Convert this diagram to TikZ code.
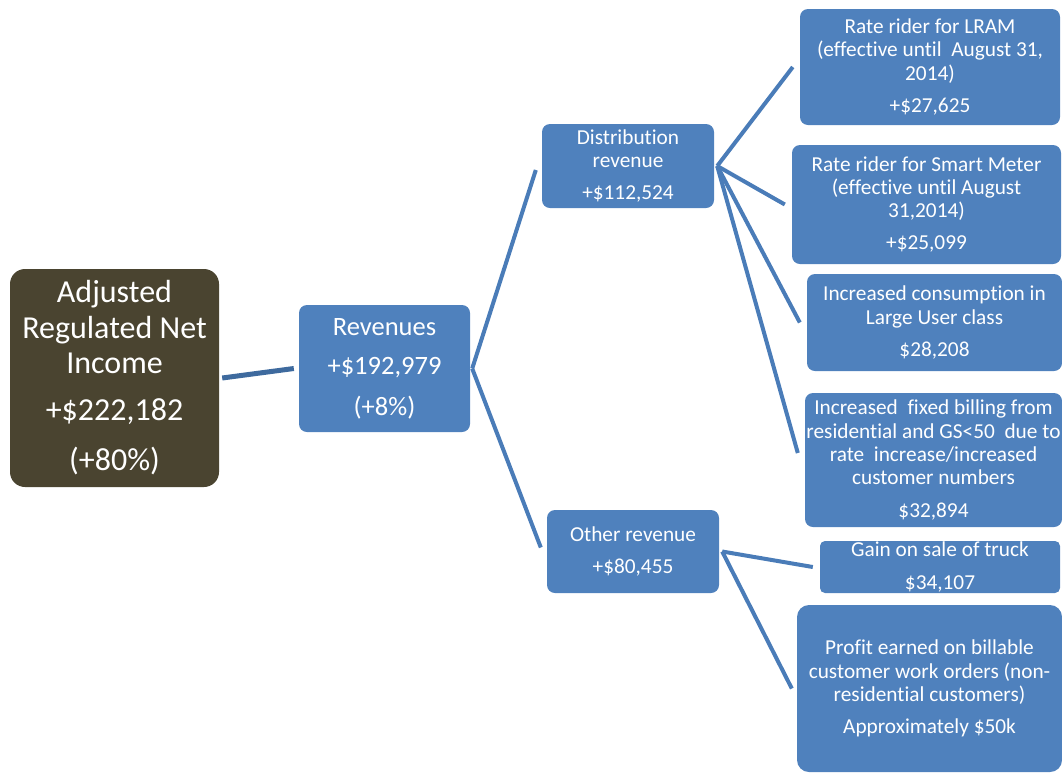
\documentclass[tikz,border=0pt]{standalone}
\usepackage{fontspec}
\setmainfont{Carlito}[Ligatures=NoCommon]
\definecolor{boxblue}{HTML}{4F81BD}
\definecolor{rootolive}{HTML}{4A4430}
\definecolor{fanblue}{HTML}{4A7CB8}
\definecolor{darkline}{HTML}{3E6A9E}
\begin{document}
\begin{tikzpicture}[x=1pt,y=-1pt,
  box/.style={fill=boxblue, text=white, rounded corners=8pt, inner xsep=0pt, inner ysep=0pt,
    align=center, font={\fontsize{21.3}{23.3}\selectfont}},
  rootbox/.style={fill=rootolive, text=white, rounded corners=15pt, inner xsep=0pt, inner ysep=0pt,
    align=center, font={\fontsize{32}{35.5}\selectfont}},
  conn/.style={draw=fanblue, line width=4pt},
  rootconn/.style={draw=darkline, line width=5pt}]
\useasboundingbox (0,0) rectangle (1062,772);

\node[rootbox, minimum width=209pt, minimum height=218pt] (root) at (114.5,378)
  {Adjusted\\Regulated Net\\Income\\[11pt]+\$222,182\\[15pt](+80\%)};
\node[box, font={\fontsize{26.5}{28}\selectfont}, minimum width=171pt, minimum height=127pt] (rev) at (384.5,368.5)
  {Revenues\\[11pt]+\$192,979\\[13pt](+8\%)};
\node[box, minimum width=172pt, minimum height=84pt] (dist) at (628,166)
  {Distribution\\revenue\\[9pt]+\$112,524};
\node[box, minimum width=172pt, minimum height=83pt] (other) at (633,551.5)
  {Other revenue\\[9pt]+\$80,455};
\node[box, minimum width=260pt, minimum height=116pt] (lram) at (930,67)
  {Rate rider for LRAM\\(effective until~ August 31,\\2014)\\[9pt]+\$27,625};
\node[box, minimum width=269pt, minimum height=119pt] (smart) at (926.5,204.5)
  {Rate rider for Smart Meter\\(effective until August\\31,2014)\\[9pt]+\$25,099};
\node[box, minimum width=255pt, minimum height=97pt] (cons) at (934.5,322.5)
  {Increased consumption in\\Large User class\\[9pt]\$28,208};
\node[box, minimum width=257pt, minimum height=134pt] (fixed) at (933.5,460)
  {Increased~ fixed billing from\\\makebox[0pt]{residential and GS<50~ due to}\\rate~ increase/increased\\customer numbers\\[9pt]\$32,894};
\node[box, rounded corners=5pt, minimum width=240pt, minimum height=52pt] (gain) at (940,567)
  {Gain on sale of truck\\[9pt]\$34,107};
\node[box, rounded corners=12pt, minimum width=265pt, minimum height=167pt] (profit) at (929.5,688.5)
  {Profit earned on billable\\customer work orders (non-\\residential customers)\\[9pt]Approximately \$50k};

\draw[rootconn] ([xshift=3pt]root.east) -- ([xshift=-5pt]rev.west);
\draw[conn] ([xshift=2pt]rev.east) -- ([xshift=-6pt,yshift=-4pt]dist.west);
\draw[conn] ([xshift=2pt]rev.east) -- ([xshift=-6pt,yshift=4pt]other.west);
\draw[conn] ([xshift=3pt]dist.east) -- ([xshift=-7pt]lram.west);
\draw[conn] ([xshift=3pt]dist.east) -- ([xshift=-7pt]smart.west);
\draw[conn] ([xshift=3pt]dist.east) -- ([xshift=-7pt]cons.west);
\draw[conn] ([xshift=3pt]dist.east) -- ([xshift=-7pt,yshift=7pt]fixed.west);
\draw[conn] ([xshift=3pt]other.east) -- ([xshift=-7pt]gain.west);
\draw[conn] ([xshift=3pt]other.east) -- ([xshift=-5pt]profit.west);
\end{tikzpicture}
\end{document}
